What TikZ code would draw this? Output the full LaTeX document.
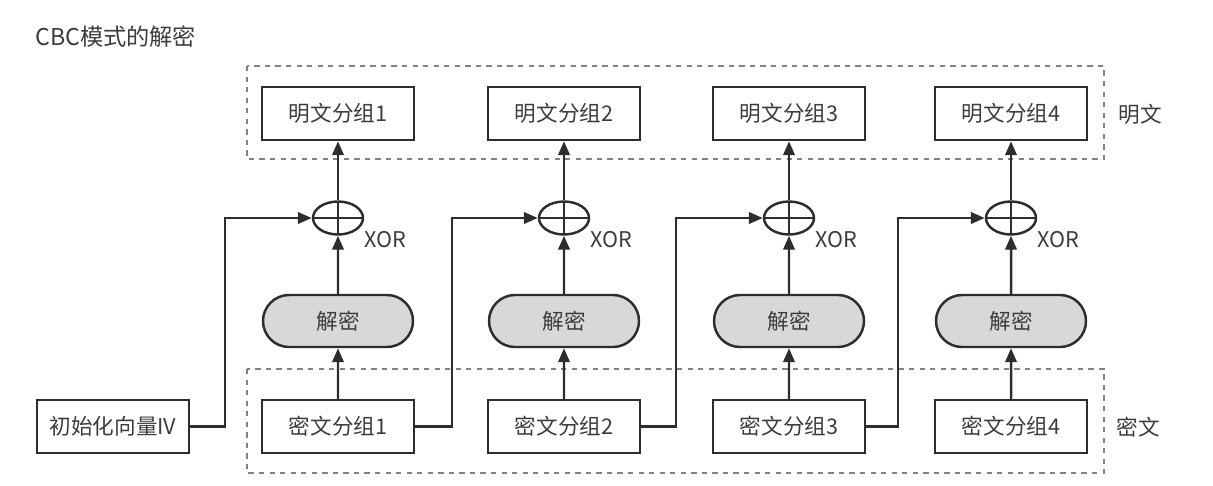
\documentclass[tikz,border=0pt]{standalone}
\usepackage{fontspec}
\setmainfont{Noto Sans CJK SC}
\usepackage{xcolor}
\usepackage{tikz}
\definecolor{inkgray}{RGB}{45, 45, 45}
\definecolor{textgray}{RGB}{60, 60, 60}
\definecolor{fillgray}{RGB}{216, 216, 216}
\definecolor{dashgray}{RGB}{130, 130, 130}
\usetikzlibrary{shapes.geometric, shapes.misc, arrows.meta, positioning}

\begin{document}
\begin{tikzpicture}[
    x=0.2mm, y=-0.2mm,
    block/.style={rectangle, draw=inkgray, line width=1.4pt, minimum width=3.04cm, minimum height=1.06cm, inner sep=0pt, text=textgray, font=\fontsize{12.3}{14}\selectfont},
    decbox/.style={rounded rectangle, draw=inkgray, fill=fillgray, line width=1.4pt, minimum width=3cm, minimum height=1.04cm, inner sep=0pt, text=textgray, font=\fontsize{12.3}{14}\selectfont},
    xorop/.style={ellipse, draw=inkgray, line width=1.4pt, minimum width=1cm, minimum height=0.66cm, inner sep=0pt,
        path picture={\draw[inkgray, line width=1.4pt] (path picture bounding box.north) -- (path picture bounding box.south) (path picture bounding box.west) -- (path picture bounding box.east);}},
    group/.style={draw=dashgray, dashed, line width=0.6pt},
    label/.style={text=textgray, font=\fontsize{12.3}{14}\selectfont},
    arrow/.style={-{Triangle[length=2.8mm, width=2.3mm]}, line width=1.4pt, inkgray}
]
    \useasboundingbox (0,0) rectangle (1213,485);

    % Title
    \node[label, anchor=west, inner sep=0pt, font=\fontsize{13.2}{15}\selectfont] (title) at (35,37) {CBC模式的解密};

    % Dashed groups
    \draw[group] (247,66) rectangle (1104,159);
    \draw[group] (247,369) rectangle (1104,473);
    \node[label] (plainlbl) at (1140,114) {明文};
    \node[label] (cipherlbl) at (1138,427) {密文};

    % Plaintext blocks
    \node[block] (p1) at (338,113.5) {明文分组1};
    \node[block] (p2) at (564,113.5) {明文分组2};
    \node[block] (p3) at (789,113.5) {明文分组3};
    \node[block] (p4) at (1011,113.5) {明文分组4};

    % XOR operators
    \node[xorop] (x1) at (338,218) {};
    \node[xorop] (x2) at (564,218) {};
    \node[xorop] (x3) at (789,218) {};
    \node[xorop] (x4) at (1011,218) {};
    \node[label] (xl1) at (385,240) {XOR};
    \node[label] (xl2) at (611,240) {XOR};
    \node[label] (xl3) at (836,240) {XOR};
    \node[label] (xl4) at (1058,240) {XOR};

    % Decryption
    \node[decbox] (d1) at (338,321) {解密};
    \node[decbox] (d2) at (564,321) {解密};
    \node[decbox] (d3) at (789,321) {解密};
    \node[decbox] (d4) at (1011,321) {解密};

    % Ciphertext blocks
    \node[block] (iv) at (113,426.5) {初始化向量IV};
    \node[block] (c1) at (338,426.5) {密文分组1};
    \node[block] (c2) at (564,426.5) {密文分组2};
    \node[block] (c3) at (789,426.5) {密文分组3};
    \node[block] (c4) at (1011,426.5) {密文分组4};

    % Feed corners
    \coordinate (f1) at (225,218);
    \coordinate (f2) at (452,218);
    \coordinate (f3) at (676,218);
    \coordinate (f4) at (898,218);

    % Arrows
    \draw[arrow] (c1) -- (d1);
    \draw[arrow] (c2) -- (d2);
    \draw[arrow] (c3) -- (d3);
    \draw[arrow] (c4) -- (d4);
    \draw[arrow] (d1) -- (x1);
    \draw[arrow] (d2) -- (x2);
    \draw[arrow] (d3) -- (x3);
    \draw[arrow] (d4) -- (x4);
    \draw[arrow] (x1) -- (p1);
    \draw[arrow] (x2) -- (p2);
    \draw[arrow] (x3) -- (p3);
    \draw[arrow] (x4) -- (p4);
    \draw[arrow] (iv.east) -| (f1) -- (x1.west);
    \draw[arrow] (c1.east) -| (f2) -- (x2.west);
    \draw[arrow] (c2.east) -| (f3) -- (x3.west);
    \draw[arrow] (c3.east) -| (f4) -- (x4.west);

\end{tikzpicture}
\end{document}
